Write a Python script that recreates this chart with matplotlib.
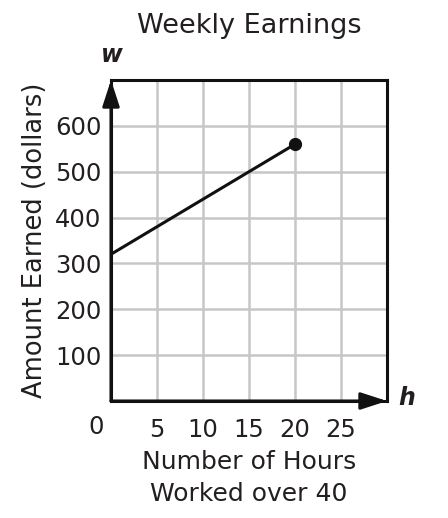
import matplotlib
matplotlib.use("Agg")
from matplotlib import pyplot as plt

# data
hours = [0, 20]
earned = [320, 560]
x_ticks = [5, 10, 15, 20, 25]
y_ticks = [100, 200, 300, 400, 500, 600]
x_max, y_max = 30, 700

txt = "#231f20"
plt.rcParams["font.family"] = ["DejaVu Sans"]

fig = plt.figure(figsize=(4.48, 5.18), dpi=100)
ax = fig.add_axes([111 / 448, 117 / 518, 276 / 448, 321 / 518])

ax.set_xlim(0, x_max)
ax.set_ylim(0, y_max)
ax.set_xticks(x_ticks)
ax.set_yticks(y_ticks)
ax.tick_params(length=0, labelsize=17.5, colors=txt)
ax.tick_params(axis="x", pad=12)
ax.tick_params(axis="y", pad=7)
ax.grid(color="#c6c6c6", linewidth=1.8)
ax.set_axisbelow(True)
for s in ax.spines.values():
    s.set_linewidth(2.2)
    s.set_color("#111111")

# the line and its end point
ax.plot(hours, earned, color="#111111", linewidth=2.2, solid_capstyle="butt")
ax.plot(hours[-1], earned[-1], "o", color="#111111", markersize=8.5)

# axis arrows
arrow = dict(arrowstyle="-|>,head_length=0.8,head_width=0.26", color="#111111",
             lw=2.2, shrinkA=0, shrinkB=0, mutation_scale=20)
ax.annotate("", xy=(0, y_max), xytext=(0, 0), arrowprops=arrow, annotation_clip=False)
ax.annotate("", xy=(x_max, 0), xytext=(0, 0), arrowprops=arrow, annotation_clip=False)

ax.annotate("0", xy=(0, 0), xytext=(-11, -19), textcoords="offset points",
            ha="center", va="center", fontsize=17.5, color=txt)
ax.annotate("w", xy=(0, y_max), xytext=(1, 18), textcoords="offset points",
            ha="center", va="center", fontsize=17, fontweight="bold",
            fontstyle="italic", color=txt)
ax.annotate("h", xy=(x_max, 0), xytext=(14, 2), textcoords="offset points",
            ha="center", va="center", fontsize=17, fontweight="bold",
            fontstyle="italic", color=txt)

ax.set_title("Weekly Earnings", fontsize=19.5, color=txt, pad=34)
ax.set_ylabel("Amount Earned (dollars)", fontsize=18.5, color=txt, labelpad=5)
ax.set_xlabel("Number of Hours\nWorked over 40", fontsize=18, color=txt,
              labelpad=6, linespacing=1.4)

fig.savefig("out.png", dpi=100)
